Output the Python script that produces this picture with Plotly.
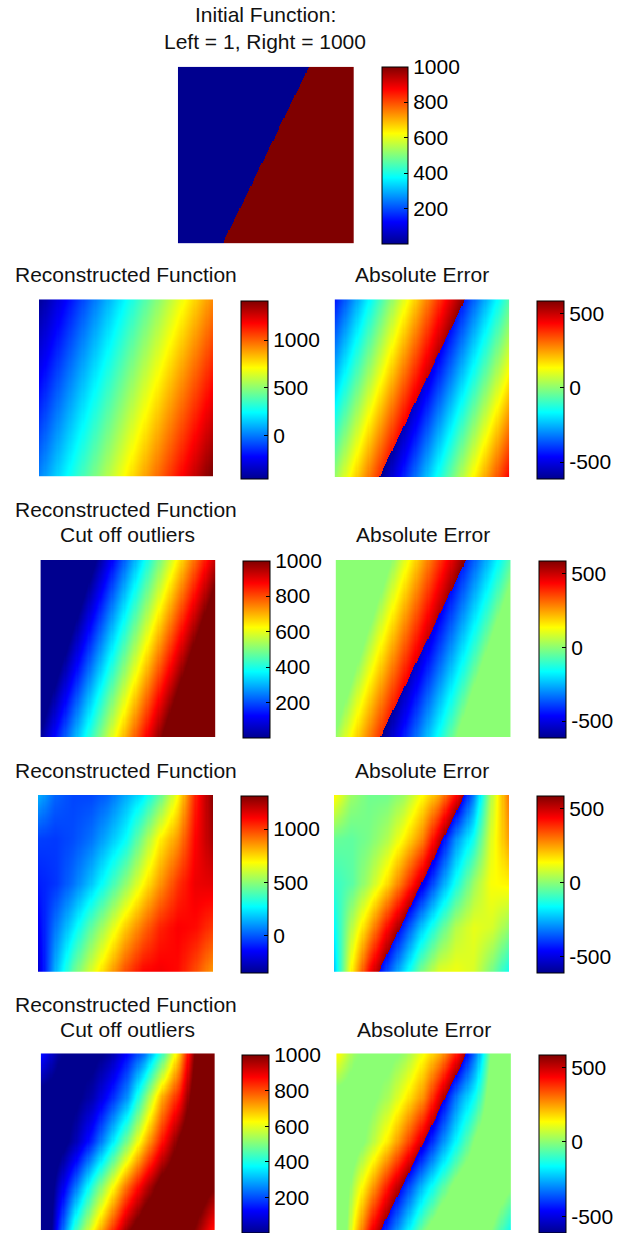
import numpy as np
import plotly.graph_objects as go

W, H = 618, 1233
N = 160  # evaluation grid per panel

# ---- data -------------------------------------------------------------
# Initial step function: 1 left of a slanted boundary, 1000 right of it.
# Boundary given as x-fraction where it meets the top and bottom edges.
boundary_top = 0.745
boundary_bottom = 0.255
left_value = 1
right_value = 1000

# First reconstruction (planar): corner values, rows top->bottom
recon_plane_x = [0.0, 1.0]
recon_plane_y = [0.0, 1.0]
recon_plane = [
    [-440, 930],
    [15, 1435],
]

# Second reconstruction: node values on a coarse grid, rows top->bottom
recon_smooth_x = [0.0, 0.1, 0.2, 0.3, 0.4, 0.5, 0.6, 0.7, 0.8, 0.9, 1.0]
recon_smooth_y = [0.0, 0.25, 0.5, 0.75, 1.0]
recon_smooth = [
    [150, 20, -30, -30, 20, 130, 240, 430, 687, 1050, 1300],
    [-40, -50, -20, 40, 150, 272, 490, 710, 860, 1100, 1250],
    [-100, -60, 40, 170, 330, 500, 687, 860, 1020, 1130, 1150],
    [-170, 50, 230, 420, 590, 770, 920, 1050, 1110, 1090, 1010],
    [-240, 150, 430, 620, 800, 980, 1100, 1120, 1090, 980, 850],
]

# colour limits of each colour bar
initial_limits = [1, 1000]
plane_limits = [-456, 1414]
smooth_limits = [-350, 1310]
error_limits = [-612, 585]
clip_limits = [1, 1000]

ticks_1000 = [200, 400, 600, 800, 1000]
ticks_recon = [0, 500, 1000]
ticks_error = [-500, 0, 500]

# ---- fields -------------------------------------------------------------
u = (np.arange(N) + 0.5) / N


def evaluate(grid, xs, ys):
    g = np.asarray(grid, float)
    rows = np.array([np.interp(u, xs, r) for r in g])
    return np.array([np.interp(u, ys, rows[:, j]) for j in range(N)]).T


edge = boundary_top + (boundary_bottom - boundary_top) * u[:, None]
initial = np.where(u[None, :] > edge, right_value, left_value).astype(float)

plane = evaluate(recon_plane, recon_plane_x, recon_plane_y)
smooth = evaluate(recon_smooth, recon_smooth_x, recon_smooth_y)
plane_cut = np.clip(plane, left_value, right_value)
smooth_cut = np.clip(smooth, left_value, right_value)

err_plane = plane - initial
err_plane_cut = plane_cut - initial
err_smooth = smooth - initial
err_smooth_cut = smooth_cut - initial

# MATLAB-style jet
jet = [
    [0.0, "rgb(0,0,143)"],
    [0.125, "rgb(0,0,255)"],
    [0.375, "rgb(0,255,255)"],
    [0.625, "rgb(255,255,0)"],
    [0.875, "rgb(255,0,0)"],
    [1.0, "rgb(128,0,0)"],
]

FONT = "Liberation Sans, Arial, Helvetica, sans-serif"

# panel: field, limits, ticks, heatmap box (x0, x1, y0, y1) px, colorbar (x0, x1, y0, y1) px
panels = [
    (initial, initial_limits, ticks_1000, (179.3, 356.7, 66.7, 243.3), (385, 411, 66.7, 243.3)),
    (plane, plane_limits, ticks_recon, (39.3, 215, 299.3, 476.7), (242.7, 270, 300.7, 478.3)),
    (err_plane, error_limits, ticks_error, (337.3, 513.3, 299.3, 477), (541.7, 568.3, 300.7, 478.3)),
    (plane_cut, clip_limits, ticks_1000, (40.7, 217.3, 560, 737), (245, 271.7, 560.7, 738)),
    (err_plane_cut, error_limits, ticks_error, (338.3, 515, 560, 737), (543.3, 570, 560.7, 738)),
    (smooth, smooth_limits, ticks_recon, (38.3, 215, 795, 971.7), (243.3, 270, 796, 972.7)),
    (err_smooth, error_limits, ticks_error, (336.7, 513.3, 795, 971.7), (541.7, 568.3, 796, 972.7)),
    (smooth_cut, clip_limits, ticks_1000, (41, 216.7, 1053.3, 1230), (244.3, 271.7, 1055, 1233)),
    (err_smooth_cut, error_limits, ticks_error, (339, 515, 1053.3, 1230), (543.3, 570, 1055, 1233)),
]

fig = go.Figure()
layout = {}
for i, (z, lim, tv, hb, cb) in enumerate(panels, start=1):
    xa = "x" if i == 1 else f"x{i}"
    ya = "y" if i == 1 else f"y{i}"
    fig.add_trace(go.Heatmap(
        z=np.round(z, 1), x=u, y=u, xaxis=xa, yaxis=ya,
        colorscale=jet, zmin=lim[0], zmax=lim[1], zsmooth=False,
        hoverinfo="skip",
        colorbar=dict(
            x=cb[0] / W, xanchor="left", y=1 - cb[2] / H, yanchor="top",
            len=cb[3] - cb[2], lenmode="pixels",
            thickness=cb[1] - cb[0], thicknessmode="pixels",
            xpad=0, ypad=0, outlinewidth=1, outlinecolor="black",
            tickvals=tv, ticktext=[str(v) for v in tv],
            ticks="inside", ticklen=4, tickcolor="black",
            tickfont=dict(family=FONT, size=21, color="black"),
        ),
    ))
    axis_common = dict(showgrid=False, zeroline=False, showticklabels=False,
                       ticks="", showline=False)
    layout["xaxis" if i == 1 else f"xaxis{i}"] = dict(
        domain=[hb[0] / W, hb[1] / W], range=[0, 1], anchor=ya, **axis_common)
    layout["yaxis" if i == 1 else f"yaxis{i}"] = dict(
        domain=[1 - hb[3] / H, 1 - hb[2] / H], range=[1, 0], anchor=xa, **axis_common)

titles = [
    ("Initial Function:", 267.5, 15),
    ("Left = 1, Right = 1000", 267.5, 41),
    ("Reconstructed Function", 127, 274),
    ("Absolute Error", 425.5, 274),
    ("Reconstructed Function", 127, 510),
    ("Cut off outliers", 129, 535),
    ("Absolute Error", 426.7, 535),
    ("Reconstructed Function", 127, 770),
    ("Absolute Error", 425, 770),
    ("Reconstructed Function", 127, 1004),
    ("Cut off outliers", 129, 1029),
    ("Absolute Error", 427, 1029),
]
annotations = [
    dict(text=t, x=x / W, y=1 - y / H, xref="paper", yref="paper",
         xanchor="center", yanchor="middle", showarrow=False,
         font=dict(family=FONT, size=21, color="#111111"))
    for t, x, y in titles
]

fig.update_layout(
    width=W, height=H, margin=dict(l=0, r=0, t=0, b=0),
    paper_bgcolor="white", plot_bgcolor="white",
    showlegend=False, annotations=annotations, **layout,
)
fig.write_html("out.html")
